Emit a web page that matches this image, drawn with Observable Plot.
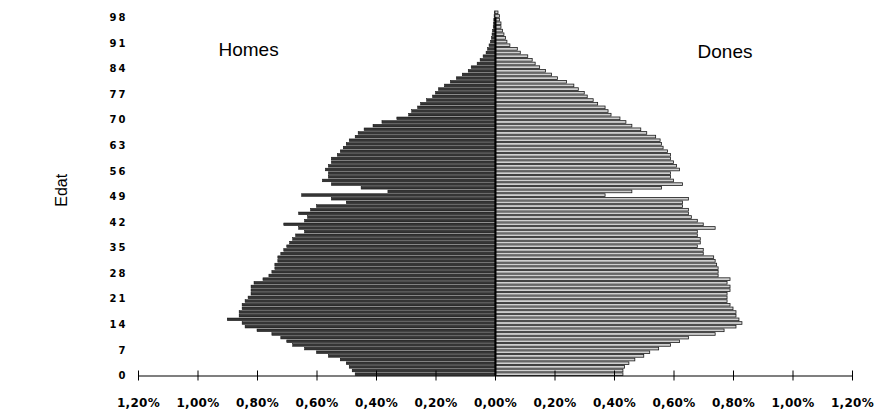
<!DOCTYPE html>
<html>
<head>
<meta charset="utf-8">
<script src="https://cdn.jsdelivr.net/npm/d3@7"></script>
<script src="https://cdn.jsdelivr.net/npm/@observablehq/plot@0.6"></script>
<style>
  html, body { margin: 0; padding: 0; background: #fff; }
  #chart svg { display: block; }
</style>
</head>
<body>
<div id="chart"></div>
<script>
// Ages (categories) 0..99
const ages = d3.range(0, 100);

// Share of total population (%) by single year of age — Homes (men)
const homes = [
  0.47, 0.48, 0.49, 0.50, 0.52, 0.56, 0.60, 0.64, 0.68, 0.70,
  0.72, 0.75, 0.80, 0.84, 0.85, 0.90, 0.86, 0.86, 0.85, 0.85,
  0.84, 0.83, 0.82, 0.82, 0.82, 0.81, 0.78, 0.76, 0.75, 0.74,
  0.74, 0.73, 0.73, 0.72, 0.71, 0.70, 0.69, 0.68, 0.67, 0.64,
  0.66, 0.71, 0.64, 0.63, 0.66, 0.62, 0.60, 0.50, 0.55, 0.65,
  0.36, 0.45, 0.55, 0.58, 0.56, 0.56, 0.57, 0.56, 0.55, 0.55,
  0.53, 0.52, 0.51, 0.50, 0.49, 0.47, 0.46, 0.44, 0.41, 0.38,
  0.33, 0.29, 0.28, 0.26, 0.25, 0.23, 0.21, 0.20, 0.19, 0.17,
  0.15, 0.13, 0.11, 0.09, 0.08, 0.06, 0.05, 0.04, 0.03, 0.025,
  0.02, 0.015, 0.012, 0.01, 0.008, 0.006, 0.005, 0.004, 0.003, 0.002
];

// Dones (women)
const dones = [
  0.43, 0.43, 0.435, 0.45, 0.47, 0.50, 0.52, 0.55, 0.59, 0.62,
  0.65, 0.74, 0.77, 0.81, 0.83, 0.82, 0.81, 0.81, 0.80, 0.79,
  0.78, 0.78, 0.78, 0.79, 0.79, 0.78, 0.79, 0.75, 0.75, 0.75,
  0.745, 0.74, 0.735, 0.70, 0.70, 0.68, 0.69, 0.69, 0.68, 0.68,
  0.74, 0.70, 0.68, 0.66, 0.65, 0.65, 0.63, 0.63, 0.65, 0.37,
  0.46, 0.56, 0.63, 0.60, 0.59, 0.59, 0.62, 0.61, 0.60, 0.59,
  0.59, 0.58, 0.565, 0.56, 0.555, 0.54, 0.51, 0.49, 0.46, 0.44,
  0.42, 0.39, 0.38, 0.37, 0.345, 0.33, 0.31, 0.30, 0.28, 0.265,
  0.24, 0.21, 0.19, 0.17, 0.15, 0.135, 0.125, 0.11, 0.085, 0.075,
  0.05, 0.04, 0.035, 0.03, 0.025, 0.02, 0.02, 0.015, 0.015, 0.01
];

const yTicks = [0, 7, 14, 21, 28, 35, 42, 49, 56, 63, 70, 77, 84, 91, 98];
const xTicks = [-1.2, -1.0, -0.8, -0.6, -0.4, -0.2, 0, 0.2, 0.4, 0.6, 0.8, 1.0, 1.2];
const sexLabels = ["Homes", "Dones"];
const axisTitle = "Edat";

const menRows = ages.map((a, i) => ({age: a, v: -homes[i]}));
const womenRows = ages.map((a, i) => ({age: a, v: dones[i]}));

const fmt = d => Math.abs(d).toFixed(2).replace(".", ",") + "%";

const chart = Plot.plot({
  width: 876,
  height: 418,
  marginLeft: 138,
  marginRight: 24,
  marginTop: 10,
  marginBottom: 42.5,
  style: {background: "#fff"},
  x: {domain: [-1.2, 1.2], axis: null},
  y: {domain: [0, 100], axis: null},
  marks: [
    Plot.rectX(menRows, {x: "v", y: "age", interval: 1, fill: "#353535", stroke: "#0a0a0a", strokeWidth: 0.5}),
    Plot.rectX(womenRows, {x: "v", y: "age", interval: 1, fill: "#d0d0d0", stroke: "#1a1a1a", strokeWidth: 0.8}),
    Plot.ruleX([0], {y1: 0, y2: d3.max(yTicks), stroke: "#000", strokeWidth: 2}),
    Plot.ruleY([0], {stroke: "#000", strokeWidth: 1.2}),
    Plot.axisX(xTicks, {anchor: "bottom", tickSize: 10, dy: -5, tickPadding: 17, tickFormat: fmt,
      fontSize: 12, fontFamily: "DejaVu Sans", fontWeight: "bold", label: null}),
    Plot.axisY(yTicks, {anchor: "left", tickSize: 0, tickPadding: 11, fontSize: 10,
      fontFamily: "DejaVu Sans", fontWeight: "bold", label: null}),
    Plot.text([axisTitle], {frameAnchor: "left", dx: -77, dy: -3, rotate: -90, textAnchor: "middle",
      fontSize: 16, fontFamily: "Liberation Sans", fill: "#000"}),
    Plot.text([sexLabels[0]], {frameAnchor: "top-left", dx: 80, dy: 45, textAnchor: "start",
      lineAnchor: "bottom", fontSize: 19, fontFamily: "Liberation Sans", fill: "#000"}),
    Plot.text([sexLabels[1]], {frameAnchor: "top-right", dx: -100, dy: 47, textAnchor: "end",
      lineAnchor: "bottom", fontSize: 19, fontFamily: "Liberation Sans", fill: "#000"})
  ]
});

document.getElementById("chart").appendChild(chart);
d3.select(chart).selectAll('g[aria-label="y-axis tick label"] text').attr("letter-spacing", 2);
d3.select(chart).selectAll('g[aria-label="x-axis tick label"] text').attr("letter-spacing", 0.3);
</script>
</body>
</html>
